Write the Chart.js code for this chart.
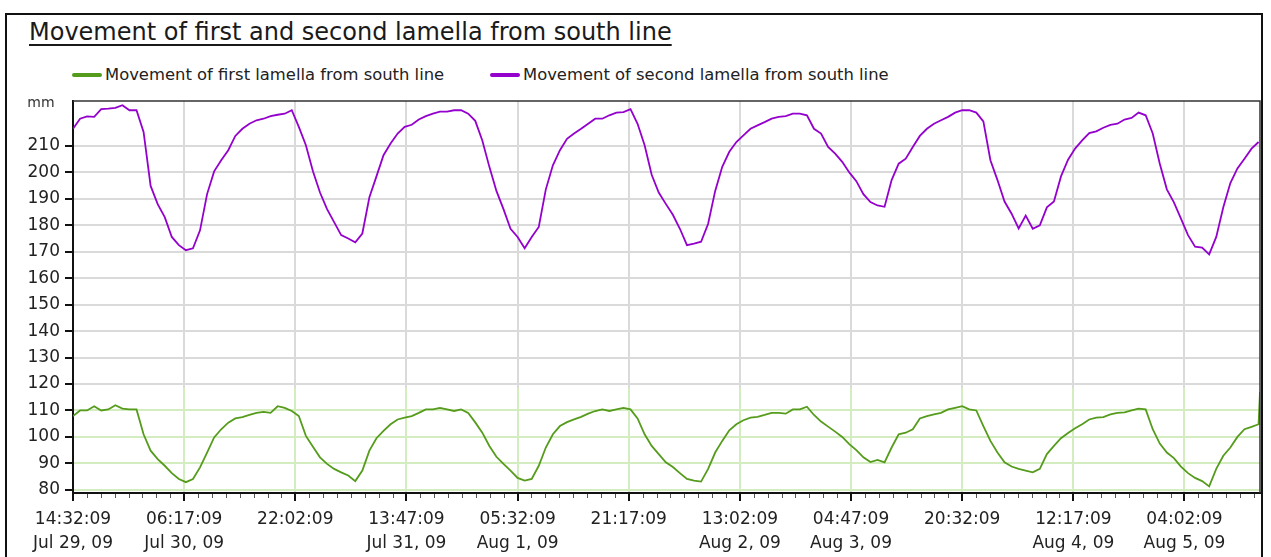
<!DOCTYPE html>
<html>
<head>
<meta charset="utf-8">
<title>Movement of first and second lamella from south line</title>
<script src="https://cdn.jsdelivr.net/npm/chart.js@4.4.1/dist/chart.umd.min.js"></script>
<style>
  html, body { margin: 0; padding: 0; background: #fff; overflow: hidden; }
  body { width: 1271px; height: 557px; position: relative; font-family: "DejaVu Sans", sans-serif; }
  #frame { position: absolute; left: 5px; top: 13px; width: 1258px; height: 600px; border: 2px solid #111; box-sizing: border-box; }
  #title { position: absolute; left: 29px; top: 18px; font-size: 24px; line-height: 28px; color: #1a1a1a;
           text-decoration: underline; text-underline-offset: 4px; white-space: nowrap; }
  .legend-item { position: absolute; top: 65px; font-size: 16.4px; line-height: 20px; color: #222; white-space: nowrap; }
  .legend-item .swatch { display: inline-block; width: 30px; height: 4px; border-radius: 2px; vertical-align: middle; margin: 0 3px 2px 0; }
  #chartWrap { position: absolute; left: 0; top: 0; width: 1271px; height: 557px; }
</style>
</head>
<body>
<div id="frame"></div>
<div id="title">Movement of first and second lamella from south line</div>
<div class="legend-item" style="left:72px"><span class="swatch" style="background:#559b1c"></span>Movement of first lamella from south line</div>
<div class="legend-item" style="left:490px"><span class="swatch" style="background:#9400cc"></span>Movement of second lamella from south line</div>
<div id="chartWrap"><canvas id="lamellaChart" width="1271" height="557"></canvas></div>

<script>
// x axis: hours since 14:32:09 Jul 29, 09 (one reading per hour)
const tickTimes = ["14:32:09", "06:17:09", "22:02:09", "13:47:09", "05:32:09", "21:17:09",
                   "13:02:09", "04:47:09", "20:32:09", "12:17:09", "04:02:09"];
const tickDates = ["Jul 29, 09", "Jul 30, 09", "", "Jul 31, 09", "Aug 1, 09", "",
                   "Aug 2, 09", "Aug 3, 09", "", "Aug 4, 09", "Aug 5, 09"];
const tickStepHours = 15.75;   // 15:45:00 between labelled ticks
const lastReadingHour = 168.2;
const yTicks = [80, 90, 100, 110, 120, 130, 140, 150, 160, 170, 180, 190, 200, 210];

// mm, hourly readings
const secondLamella = [
  216.5, 220.3, 221.2, 221, 223.9, 224.1, 224.4, 225.4, 223.5, 223.5,
  215.3, 194.9, 188, 183.1, 175.6, 172.5, 170.6, 171.3, 178.1, 191.8,
  200.4, 204.6, 208.4, 213.8, 216.5, 218.4, 219.7, 220.3, 221.3, 221.8,
  222.2, 223.5, 217.2, 210.3, 200.4, 192.4, 186.1, 181.2, 176.3, 175,
  173.6, 176.9, 190.6, 198.5, 206.5, 210.9, 214.7, 217.2, 218, 220,
  221.3, 222.2, 223, 223, 223.5, 223.5, 222.2, 219.5, 212.1, 202.1,
  193, 186.1, 178.7, 175.6, 171.3, 175.6, 179.4, 193.6, 202.7, 208.4,
  212.7, 214.7, 216.5, 218.4, 220.3, 220.3, 221.6, 222.6, 222.8, 223.9,
  218.4, 210.3, 199.1, 192.4, 188.1, 184, 178.7, 172.5, 173.1, 173.8,
  180.6, 193, 202.1, 207.8, 211.5, 214, 216.5, 217.8, 219, 220.3,
  221, 221.3, 222.2, 222.2, 221.6, 216.5, 214.7, 209.6, 207.1, 204,
  200, 196.7, 191.8, 188.8, 187.5, 187, 197.1, 203.3, 205.2, 209.6,
  213.8, 216.5, 218.4, 219.7, 221, 222.6, 223.5, 223.5, 222.6, 219.3,
  204.6, 197.1, 189, 184.4, 178.8, 183.7, 178.7, 180, 186.8, 189,
  198.5, 204.8, 209, 212.1, 214.9, 215.5, 216.9, 218, 218.4, 220,
  220.6, 222.6, 221.6, 214.7, 203.3, 193.6, 188.7, 182.5, 176.3, 171.9,
  171.6, 169, 175.6, 186.8, 196, 201.5, 205.2, 209, 211.5
];

const firstLamella = [
  107.9, 110, 110, 111.6, 110, 110.4, 112, 110.7, 110.4, 110.4,
  101, 94.8, 91.6, 89.1, 86.3, 84.1, 82.9, 84.1, 88.5, 94.1,
  99.8, 102.9, 105.4, 107, 107.5, 108.3, 109.1, 109.5, 109.1, 111.6,
  111, 109.8, 107.9, 100.4, 96.3, 92.3, 89.8, 87.9, 86.6, 85.4,
  83.3, 87.3, 94.8, 99.5, 102.3, 104.8, 106.6, 107.3, 107.9, 109.1,
  110.4, 110.4, 111, 110.4, 109.8, 110.4, 109.1, 105.5, 101.6, 96.6,
  92.5, 89.8, 87.3, 84.5, 83.5, 84.1, 89.1, 96, 101, 104.1,
  105.6, 106.6, 107.6, 108.8, 109.8, 110.4, 109.8, 110.4, 111, 110.4,
  107, 101, 96.6, 93.5, 90.4, 88.6, 86.3, 84.1, 83.5, 83.1,
  87.9, 94.1, 98.5, 102.5, 104.8, 106.3, 107.3, 107.6, 108.3, 109.1,
  109.1, 108.8, 110.4, 110.4, 111.4, 108.3, 105.8, 103.9, 102, 100,
  97.3, 95, 92.3, 90.5, 91.3, 90.4, 96, 101, 101.6, 102.9,
  107, 107.9, 108.5, 109.1, 110.4, 111, 111.6, 110.4, 110, 104.1,
  98.5, 94.1, 90.4, 88.8, 87.9, 87.3, 86.6, 87.9, 93.5, 96.6,
  99.5, 101.5, 103.3, 104.8, 106.6, 107.3, 107.5, 108.5, 109.1, 109.3,
  110, 110.7, 110.4, 102.9, 97.5, 94.1, 92, 88.8, 86.3, 84.5,
  83.3, 81.3, 87.9, 92.9, 96, 100, 102.9, 103.8, 104.8, 117
];

const FONT = '"DejaVu Sans", sans-serif';
const GREEN = "#559b1c";
const PURPLE = "#9400cc";

function toPoints(values) {
    return values.map((v, i) => ({ x: i < 169 ? i : lastReadingHour, y: v }));
}

// light green grid of the lower (first lamella) pane
const greenPane = {
    id: "greenPane",
    beforeDatasetsDraw(chart) {
        const { ctx, chartArea: a, scales: { x, y } } = chart;
        ctx.save();
        ctx.strokeStyle = "#d3ecc0";
        ctx.lineWidth = 2;
        ctx.beginPath();
        [80, 90, 100, 110].forEach(v => {
            const py = Math.round(y.getPixelForValue(v));
            ctx.moveTo(a.left + 1, py);
            ctx.lineTo(a.right, py);
        });
        const top = y.getPixelForValue(118.5);
        x.ticks.forEach((t, i) => {
            if (i === 0) return;
            const px = Math.round(x.getPixelForValue(t.value));
            ctx.moveTo(px, top);
            ctx.lineTo(px, a.bottom - 1);
        });
        ctx.stroke();
        ctx.restore();
    }
};

// top/right frame of the plot, minor ticks and the unit label
const extras = {
    id: "extras",
    afterDraw(chart) {
        const { ctx, chartArea: a, scales: { x } } = chart;
        ctx.save();
        ctx.strokeStyle = "#333";
        ctx.lineWidth = 1.5;
        ctx.beginPath();
        ctx.moveTo(a.left, a.top);
        ctx.lineTo(a.right, a.top);
        ctx.lineTo(a.right, a.bottom);
        ctx.stroke();

        ctx.strokeStyle = "#555";
        ctx.lineWidth = 1;
        ctx.beginPath();
        for (let k = 1; k * tickStepHours / 8 < x.max; k++) {
            if (k % 8 === 0) continue;
            const px = Math.round(x.getPixelForValue(k * tickStepHours / 8)) + 0.5;
            ctx.moveTo(px, a.bottom + 1);
            ctx.lineTo(px, a.bottom + 5);
        }
        ctx.stroke();

        ctx.fillStyle = "#333";
        ctx.font = "14px " + FONT;
        ctx.textAlign = "center";
        ctx.textBaseline = "middle";
        ctx.fillText("mm", a.left - 32, a.top + 2);
        ctx.restore();
    }
};

const ctx = document.getElementById("lamellaChart").getContext("2d");

new Chart(ctx, {
    type: "line",
    data: {
        datasets: [
            {
                label: "Movement of first lamella from south line",
                data: toPoints(firstLamella),
                borderColor: GREEN,
                backgroundColor: GREEN,
                borderWidth: 1.8,
                pointRadius: 0,
                tension: 0
            },
            {
                label: "Movement of second lamella from south line",
                data: toPoints(secondLamella),
                borderColor: PURPLE,
                backgroundColor: PURPLE,
                borderWidth: 1.8,
                pointRadius: 0,
                tension: 0
            }
        ]
    },
    options: {
        responsive: false,
        animation: false,
        devicePixelRatio: 1,
        layout: { padding: { left: 0, top: 101, right: 11, bottom: 0 } },
        plugins: {
            legend: { display: false },
            title: { display: false },
            tooltip: { enabled: false }
        },
        scales: {
            x: {
                type: "linear",
                min: 0,
                max: lastReadingHour,
                afterBuildTicks: s => { s.ticks = tickTimes.map((t, i) => ({ value: i * tickStepHours })); },
                afterFit: s => { s.height = 64; },
                ticks: {
                    autoSkip: false,
                    maxRotation: 0,
                    padding: 6,
                    color: "#222",
                    font: { family: FONT, size: 17, lineHeight: 1.45 },
                    callback: (v, i) => tickDates[i] ? [tickTimes[i], tickDates[i]] : tickTimes[i]
                },
                grid: { color: "#dadada", lineWidth: 2, tickLength: 8, tickColor: "#111", tickWidth: 2 },
                border: { color: "#111", width: 2 }
            },
            y: {
                min: 78.8,
                max: 227,
                afterBuildTicks: s => { s.ticks = yTicks.map(v => ({ value: v })); },
                afterFit: s => { s.width = 73; },
                ticks: {
                    padding: 5,
                    color: "#222",
                    font: { family: FONT, size: 17 }
                },
                grid: { color: "#dadada", lineWidth: 2, tickLength: 8, tickColor: "#111", tickWidth: 2 },
                border: { color: "#111", width: 2 }
            }
        }
    },
    plugins: [greenPane, extras]
});
</script>
</body>
</html>
